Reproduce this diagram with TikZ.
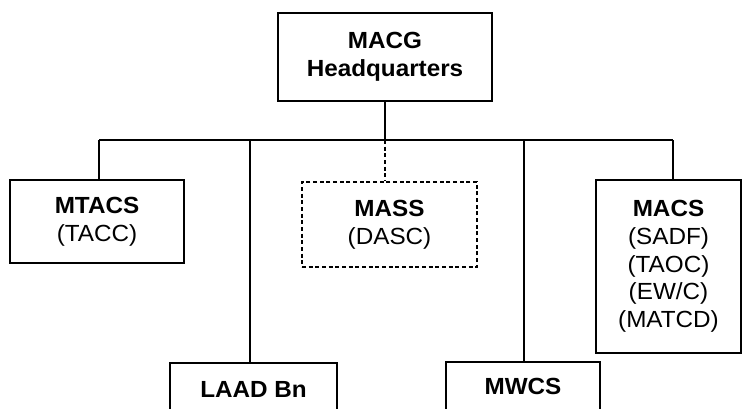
\documentclass[tikz,border=0pt]{standalone}
\usepackage{fontspec}
\setmainfont[FakeStretch=1.04]{Liberation Sans}

\begin{document}
\begin{tikzpicture}[x=0.75pt,y=-0.75pt,line width=1.2pt,
  unit/.style={draw,align=center,inner sep=0pt,font=\fontsize{17.5}{20.8}\selectfont},
  optunit/.style={unit,dash pattern=on 3pt off 2pt}]
\clip (0,0) rectangle (742,408);
\node[unit,minimum width=160.5pt,minimum height=66pt] (hq) at (385,57) {\textbf{MACG}\\\textbf{Headquarters}};
%
\node[unit,minimum width=130.5pt,minimum height=62.25pt] (mtacs) at (97,221.5) {\textbf{MTACS}\\(TACC)};
\node[optunit,minimum width=131.25pt,minimum height=63.75pt] (mass) at (389.5,224.5) {\textbf{MASS}\\(DASC)};
\node[unit,minimum width=108.75pt,minimum height=129.75pt] (macs) at (668.5,266.5) {\textbf{MACS}\\(SADF)\\(TAOC)\\(EW/C)\\(MATCD)};
%%
\node[unit,minimum width=125.25pt,minimum height=39pt] (laad) at (253.5,389) {\textbf{LAAD Bn}};
\node[unit,minimum width=115.5pt,minimum height=36pt] (mwcs) at (523,386) {\textbf{MWCS}};
%% bus
\coordinate (b0) at (385,140);
\coordinate (b1) at (99,140);
\coordinate (b2) at (250,140);
\coordinate (b3) at (524,140);
\coordinate (b4) at (673,140);
%%
\draw (hq) -- (b0) (b1) -- (b4)
 (b1) -- (b1 |- mtacs.north) (b2) -- (b2 |- laad.north)
 (b3) -- (b3 |- mwcs.north) (b4) -- (b4 |- macs.north);
\draw[dash pattern=on 3pt off 2pt] (b0) -- (b0 |- mass.north);
\end{tikzpicture}
\end{document}
